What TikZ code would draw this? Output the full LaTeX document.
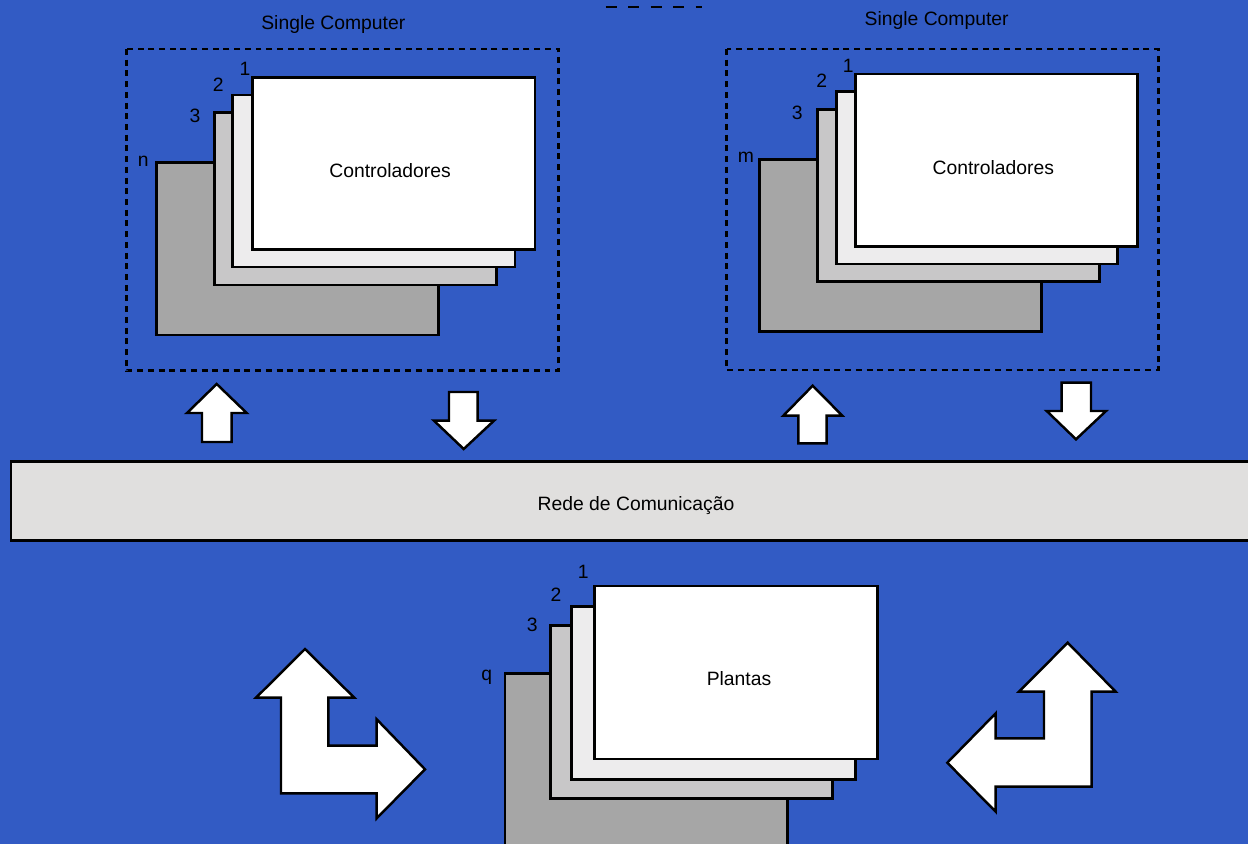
\documentclass[tikz,border=0pt]{standalone}
\usepackage{fontspec}
\setmainfont{Liberation Sans}
\usetikzlibrary{positioning}
\definecolor{bgblue}{RGB}{50,91,196}
\definecolor{layerA}{RGB}{166,166,166}
\definecolor{layerB}{RGB}{200,199,200}
\definecolor{layerC}{RGB}{237,236,237}
\definecolor{barfill}{RGB}{224,223,222}
\tikzset{
  layer/.style={draw=black, line width=1.7pt},
  computer/.style={draw=black, line width=1.4pt, dash pattern=on 3.4pt off 2.7pt},
  bigarrow/.style={draw=black, fill=white, line width=1.4pt, line join=miter},
  lbl/.style={inner sep=0pt, text=black}
}
\begin{document}
\begin{tikzpicture}[x=0.02cm, y=-0.02cm, font=\fontsize{11}{13}\selectfont]
  % background
  \fill[bgblue] (0,0) rectangle (1248,844);
  \useasboundingbox (0,0) rectangle (1248,844);

  % stray dashed line at the top
  \draw[line width=1.4pt, dash pattern=on 6.4pt off 6.4pt] (605.7,7) -- (702,7);

  % left computer
  \draw[computer] (126.7,49) rectangle (558.3,370.7);
  \node[lbl] (titleL) at (333.3,24.5) {Single Computer};
  \draw[layer, fill=layerA] (156.7,162.7) rectangle (438.7,335);
  \draw[layer, fill=layerB] (214.3,112.7) rectangle (496.7,285);
  \draw[layer, fill=layerC] (232.7,95) rectangle (515,267);
  \draw[layer, fill=white] (252.7,77.7) rectangle (535,249.3);
  \node[lbl] (ctrlL) at (390,170.5) {Controladores};
  \node[lbl] (oneL) at (245,69) {1};
  \node[lbl] (twoL) at (218.3,85) {2};
  \node[lbl] (threeL) at (195,115.7) {3};
  \node[lbl] (lastL) at (143.3,161) {n};

  % right computer
  \draw[computer] (726.7,49) rectangle (1158.3,370);
  \node[lbl] (titleR) at (936.7,21) {Single Computer};
  \draw[layer, fill=layerA] (759.3,159.3) rectangle (1041.7,331.7);
  \draw[layer, fill=layerB] (817.7,109.3) rectangle (1099.3,281.7);
  \draw[layer, fill=layerC] (836,91.7) rectangle (1117.7,264);
  \draw[layer, fill=white] (855.7,74) rectangle (1137.7,246.7);
  \node[lbl] (ctrlR) at (993.3,168) {Controladores};
  \node[lbl] (oneR) at (848.3,65.7) {1};
  \node[lbl] (twoR) at (821.7,80.7) {2};
  \node[lbl] (threeR) at (797.3,113) {3};
  \node[lbl] (lastR) at (746,157.7) {m};

  % arrows between computers and network
  \draw[bigarrow] (216.7,384) -- (246.7,413) -- (231.7,413) -- (231.7,442)
    -- (202,442) -- (202,413) -- (187,413) -- cycle;
  \draw[bigarrow] (463.7,449) -- (494,420.7) -- (477.7,420.7) -- (477.7,392)
    -- (449,392) -- (449,420.7) -- (434,420.7) -- cycle;
  \draw[bigarrow] (812.7,385.7) -- (842.3,415.7) -- (826.7,415.7) -- (826.7,443.3)
    -- (798.3,443.3) -- (798.3,415.7) -- (783.3,415.7) -- cycle;
  \draw[bigarrow] (1076,439.3) -- (1106,411) -- (1091,411) -- (1091,382.7)
    -- (1061.7,382.7) -- (1061.7,411) -- (1046.7,411) -- cycle;

  % network
  \draw[draw=black, line width=1.6pt, fill=barfill] (11,461.7) rectangle (1260,540.7);
  \node[lbl] (rede) at (636,505.5) {Rede de Comunicação};

  % plants
  \draw[layer, fill=layerA] (505,673.3) rectangle (787.3,850);
  \draw[layer, fill=layerB] (550.7,625.3) rectangle (832.7,798.3);
  \draw[layer, fill=layerC] (571.7,606.3) rectangle (855,779.3);
  \draw[layer, fill=white] (594.3,586) rectangle (877.3,759);
  \node[lbl] (plantas) at (739,679) {Plantas};
  \node[lbl] (oneP) at (583.3,571.7) {1};
  \node[lbl] (twoP) at (556,595) {2};
  \node[lbl] (threeP) at (532.3,625) {3};
  \node[lbl] (lastP) at (486.7,677.5) {q};

  % corner arrows
  \draw[bigarrow] (305,649) -- (354.3,697.7) -- (328.3,697.7) -- (328.3,745.7)
    -- (376.7,745.7) -- (376.7,719.3) -- (425,769.3) -- (376.7,818.3)
    -- (376.7,793.3) -- (281,793.3) -- (281,697.7) -- (256,697.7) -- cycle;
  \draw[bigarrow] (1067.7,642.7) -- (1115.7,691.7) -- (1091.7,691.7) -- (1091.7,786.7)
    -- (995.7,786.7) -- (995.7,811.7) -- (947.3,762.7) -- (995.7,713.3)
    -- (995.7,738.3) -- (1044,738.3) -- (1044,691.7) -- (1019,691.7) -- cycle;
\end{tikzpicture}
\end{document}
